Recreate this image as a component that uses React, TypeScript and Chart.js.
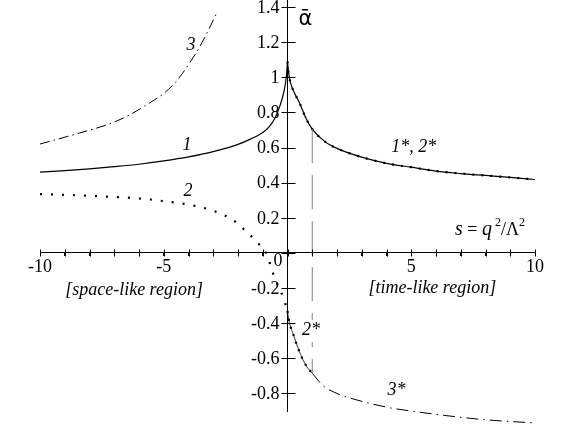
import { useEffect, useRef } from 'react';
import { Chart, registerables } from 'chart.js';

Chart.register(...registerables);

// ---- axes ----
const X_TICKS = [-10, -9, -8, -7, -6, -5, -4, -3, -2, -1, 0, 1, 2, 3, 4, 5, 6, 7, 8, 9, 10];
const X_TICK_LABELS = [-10, -5, 5, 10];
const Y_TICKS = [-0.8, -0.6, -0.4, -0.2, 0, 0.2, 0.4, 0.6, 0.8, 1, 1.2, 1.4];

// ---- curve 1 (space-like, solid) ----
const c1X = [-10, -9, -8, -7, -6, -5, -4, -3, -2, -1.5, -1, -0.75, -0.5, -0.3, -0.15, -0.05, 0];
const c1Y = [0.46, 0.469, 0.479, 0.491, 0.505, 0.524, 0.547, 0.577, 0.618, 0.648, 0.686, 0.716, 0.77, 0.84, 0.915, 1.0, 1.09];

// ---- curve 1*, 2* (time-like, solid + dots) ----
const c1sX = [0, 0.05, 0.1, 0.25, 0.5, 0.75, 1, 1.5, 2, 3, 4, 5, 6, 7, 8, 9, 10];
const c1sY = [1.09, 1.02, 0.98, 0.92, 0.85, 0.765, 0.705, 0.635, 0.595, 0.545, 0.51, 0.488, 0.466, 0.452, 0.441, 0.43, 0.418];

// ---- curve 2 (space-like, dotted) ----
const c2X = [-10, -8, -6, -5, -4, -3, -2.2, -1.6, -1.2, -0.83, -0.6, -0.4, -0.18, 0];
const c2Y = [0.335, 0.325, 0.31, 0.295, 0.275, 0.24, 0.187, 0.113, 0.057, -0.01, -0.11, -0.18, -0.25, -0.33];

// ---- curve 2* (time-like, 0..1, dotted) ----
const c2sX = [0, 0.05, 0.1, 0.25, 0.42, 0.63, 0.79, 1];
const c2sY = [-0.33, -0.38, -0.41, -0.47, -0.54, -0.61, -0.65, -0.685];

// ---- curve 3 (space-like, dash-dot) ----
const c3X = [-10, -8.4, -7, -5.84, -4.63, -3.8, -3.33, -2.85];
const c3Y = [0.62, 0.683, 0.745, 0.83, 0.956, 1.115, 1.23, 1.37];

// ---- curve 3* (time-like, dash-dot) ----
const c3sX = [1, 1.43, 2, 2.8, 4.14, 5, 6.16, 8, 10];
const c3sY = [-0.685, -0.755, -0.8, -0.837, -0.882, -0.9, -0.922, -0.95, -0.968];

// ---- threshold marker s = 1 ----
const vLineX = [1, 1];
const vLineY = [0.705, -0.685];

// ---- text labels ----
const LABEL_TEXT = ['3', '1', '2', '1*, 2*', '2*', '3*', '[space-like region]', '[time-like region]'];
const LABEL_X = [-3.9, -4.06, -4.02, 5.1, 0.95, 4.4, -6.2, 5.85];
const LABEL_Y = [1.18, 0.615, 0.35, 0.6, -0.44, -0.78, -0.21, -0.2];

const SERIF = '"Liberation Serif", "Times New Roman", serif';

const pts = (xs: number[], ys: number[]) => xs.map((x, i) => ({ x, y: ys[i] }));
const fmt = (v: number) => String(Math.round(v * 10) / 10);

export default function App() {
  const ref = useRef<HTMLCanvasElement>(null);

  useEffect(() => {
    const canvas = ref.current;
    if (!canvas) return;

    const annot = {
      id: 'annot',
      afterDraw(chart: any) {
        const ctx = chart.ctx as CanvasRenderingContext2D;
        const xs = chart.scales.x;
        const ys = chart.scales.y;
        const x0 = Math.round(xs.getPixelForValue(0)) + 0.5;
        const y0 = Math.round(ys.getPixelForValue(0)) + 0.5;
        ctx.save();
        ctx.strokeStyle = '#000';
        ctx.lineWidth = 1;
        // tick marks crossing the axes
        ctx.beginPath();
        for (const v of Y_TICKS) {
          const py = Math.round(ys.getPixelForValue(v)) + 0.5;
          ctx.moveTo(x0 - 7, py);
          ctx.lineTo(x0 + 7, py);
        }
        for (const v of X_TICKS) {
          const px = Math.round(xs.getPixelForValue(v)) + 0.5;
          ctx.moveTo(px, y0 + 3);
          ctx.lineTo(px, y0 - 4);
        }
        ctx.stroke();

        // y tick labels
        ctx.fillStyle = '#000';
        ctx.font = `18px ${SERIF}`;
        ctx.textAlign = 'right';
        ctx.textBaseline = 'middle';
        for (const v of Y_TICKS) {
          const py = ys.getPixelForValue(v);
          if (v === 0) ctx.fillText('0', x0 - 6, py + 8);
          else ctx.fillText(fmt(v), x0 - 9, py + 1);
        }

        // curve labels
        ctx.textAlign = 'center';
        ctx.textBaseline = 'middle';
        LABEL_TEXT.forEach((t, i) => {
          const px = xs.getPixelForValue(LABEL_X[i]);
          const py = ys.getPixelForValue(LABEL_Y[i]);
          ctx.font = `italic 18px ${SERIF}`;
          if (t === '2*') {
            const w = ctx.measureText(t).width;
            ctx.fillStyle = '#fff';
            ctx.fillRect(px - w / 2 - 1, py - 10, w + 2, 22);
          }
          ctx.fillStyle = '#000';
          ctx.fillText(t, px, py);
        });

        // alpha-bar axis title
        ctx.font = `21px "DejaVu Sans", sans-serif`;
        ctx.fillText('ᾱ', xs.getPixelForValue(0.72), ys.getPixelForValue(1.33));

        // s = q^2/Λ^2
        let cx = xs.getPixelForValue(6.77);
        const base = ys.getPixelForValue(0.1);
        ctx.textAlign = 'left';
        ctx.textBaseline = 'alphabetic';
        const parts: [string, string, number][] = [
          ['s', `italic 20px ${SERIF}`, 0],
          [' = ', `18px ${SERIF}`, 0],
          ['q', `italic 20px ${SERIF}`, 0],
          [' 2', `12px ${SERIF}`, -9],
          ['/Λ', `18px ${SERIF}`, 0],
          ['2', `12px ${SERIF}`, -9],
        ];
        for (const [t, f, dy] of parts) {
          ctx.font = f;
          ctx.fillText(t, cx, base + dy);
          cx += ctx.measureText(t).width;
        }
        ctx.restore();
      },
    };

    const common = {
      pointRadius: 0,
      pointHoverRadius: 0,
      showLine: true,
      borderColor: '#000',
      backgroundColor: '#000',
      borderWidth: 1,
      clip: false as any,
      cubicInterpolationMode: 'monotone' as const,
    };

    const noPad = (s: any) => {
      s.paddingTop = 0;
      s.paddingBottom = 0;
      s.paddingLeft = 0;
      s.paddingRight = 0;
    };

    const chart = new Chart(canvas, {
      type: 'scatter',
      data: {
        datasets: [
          { ...common, label: 'threshold', data: pts(vLineX, vLineY), borderColor: '#808080', borderDash: [34, 12], cubicInterpolationMode: 'default' as const },
          { ...common, label: '3', data: pts(c3X, c3Y), borderDash: [10, 4, 1.5, 4] },
          { ...common, label: '3*', data: pts(c3sX, c3sY), borderDash: [12, 5, 1.5, 5] },
          { ...common, label: '1', data: pts(c1X, c1Y), borderWidth: 1.2 },
          { ...common, label: '1*', data: pts(c1sX, c1sY), borderWidth: 1.2 },
          { ...common, label: '2* (upper)', data: pts(c1sX, c1sY), borderWidth: 2.2, borderDash: [2, 7] },
          { ...common, label: '2', data: pts(c2X, c2Y), borderWidth: 2.2, borderDash: [2, 9] },
          { ...common, label: '2* line', data: pts(c2sX, c2sY), borderWidth: 0.8 },
          { ...common, label: '2*', data: pts(c2sX, c2sY), borderWidth: 2.2, borderDash: [2, 6] },
        ],
      },
      options: {
        animation: false,
        responsive: false,
        devicePixelRatio: 1,
        events: [],
        layout: { padding: { left: 40, right: 48, top: 0, bottom: 25 } },
        plugins: { legend: { display: false }, tooltip: { enabled: false }, title: { display: false } },
        scales: {
          x: {
            type: 'linear',
            position: { y: 0 } as any,
            min: -10,
            max: 10,
            afterFit: noPad,
            afterBuildTicks: (s: any) => {
              s.ticks = X_TICKS.map((v) => ({ value: v }));
            },
            ticks: {
              autoSkip: false,
              maxRotation: 0,
              padding: 1,
              color: '#000',
              font: { family: SERIF, size: 18 },
              callback: (v: any) => (X_TICK_LABELS.includes(Number(v)) ? String(v) : ''),
            },
            grid: { display: true, drawOnChartArea: false, drawTicks: true, tickLength: 3, color: '#000', lineWidth: 1 },
            border: { display: true, color: '#000', width: 1 },
          },
          y: {
            type: 'linear',
            position: { x: 0 } as any,
            min: -0.9,
            max: 1.44,
            afterFit: noPad,
            afterBuildTicks: (s: any) => {
              s.ticks = Y_TICKS.map((v) => ({ value: v }));
            },
            ticks: { display: false },
            grid: { display: false },
            border: { display: true, color: '#000', width: 1 },
          },
        },
      },
      plugins: [annot],
    });

    return () => chart.destroy();
  }, []);

  return (
    <div style={{ position: 'absolute', left: 0, top: 0, width: 583, height: 436, background: '#fff' }}>
      <canvas ref={ref} width={583} height={436} style={{ display: 'block', width: 583, height: 436 }} />
    </div>
  );
}
